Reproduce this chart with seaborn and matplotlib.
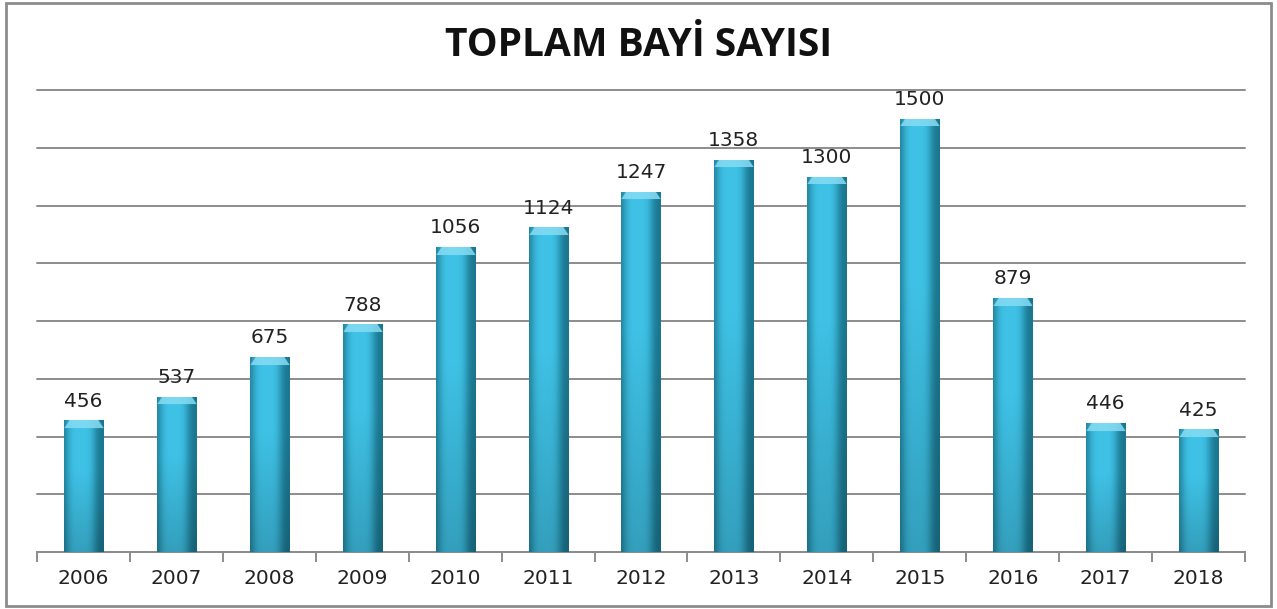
import numpy as np
import pandas as pd
import seaborn as sns
import matplotlib.pyplot as plt
from matplotlib.colors import to_rgb
from matplotlib.patches import Rectangle

years = ["2006", "2007", "2008", "2009", "2010", "2011", "2012",
         "2013", "2014", "2015", "2016", "2017", "2018"]
dealers = [456, 537, 675, 788, 1056, 1124, 1247, 1358, 1300, 1500, 879, 446, 425]

df = pd.DataFrame({"year": years, "count": dealers})

sns.set_style("white")
plt.rcParams["font.family"] = ["DejaVu Sans"]

fig = plt.figure(figsize=(12.77, 6.09), dpi=100)
ax = fig.add_axes([37 / 1277, 57 / 609, 1208 / 1277, 462 / 609])

sns.barplot(data=df, x="year", y="count", color="#35b5da", width=0.42,
            ax=ax, zorder=3)

ax.set_xlim(-0.5, len(years) - 0.5)
ax.set_ylim(0, 1600)
ax.set_yticks(np.arange(0, 1601, 200))
ax.yaxis.grid(True, color="#8c8c8c", lw=1.4)
for gl in ax.get_ygridlines():
    gl.set_clip_on(False)
ax.set_axisbelow(True)
ax.tick_params(axis="y", length=0, labelleft=False)
ax.set_xlabel("")
ax.set_ylabel("")
for s in ["top", "left", "right"]:
    ax.spines[s].set_visible(False)
ax.spines["bottom"].set_color("#8c8c8c")
ax.spines["bottom"].set_linewidth(1.4)

ax.set_xticks(np.arange(-0.5, len(years), 1.0), minor=True)
ax.tick_params(axis="x", which="minor", bottom=True, length=7, width=1.4,
               color="#8c8c8c", direction="out")
ax.tick_params(axis="x", which="major", length=0, pad=12, labelsize=14.5,
               labelcolor="#222222")

# cylinder-like shading for each bar
dark = np.array(to_rgb("#1b7790"))
light = np.array(to_rgb("#3fc2e6"))
bevel = np.array(to_rgb("#86dcf3"))
px_per_unit = 462 / 1600
cols = np.linspace(0, 1, 60)
prof = np.exp(-((cols - 0.42) / 0.38) ** 4)
for p in ax.patches:
    x0, w, h = p.get_x(), p.get_width(), p.get_height()
    nrows = max(int(h * px_per_unit), 2)
    rows = np.linspace(1, 0, nrows)[:, None]  # 1 at top
    base = dark[None, None, :] + (light - dark)[None, None, :] * prof[None, :, None]
    vert = 0.82 + 0.18 * np.clip(rows * 1.6, 0, 1)
    img = base * vert[:, :, None]
    # top bevel
    bev_px = 8
    depth = (1 - rows[:, 0]) * nrows
    for i in range(min(bev_px, nrows)):
        inset = 0.2 * (1 - depth[i] / bev_px)
        m = (cols >= inset * 0.6) & (cols <= 1 - inset * 0.6)
        img[i, m] = bevel * 0.85 + img[i, m] * 0.15
    img = np.clip(img, 0, 1)
    im = ax.imshow(img, extent=[x0, x0 + w, 0, h], aspect="auto",
                   zorder=4, interpolation="bilinear")
    im.set_clip_path(p)
    p.set_facecolor("none")
    p.set_edgecolor("none")

for i, v in enumerate(dealers):
    ax.annotate(str(v), (i, v), xytext=(0, 7), textcoords="offset points",
                ha="center", va="bottom", fontsize=14.5, color="#222222")

fig.text(0.5, 1 - 45 / 609, "TOPLAM BAYİ SAYISI", ha="center", va="center",
         fontsize=28, fontweight="bold", family=["Open Sans", "DejaVu Sans"],
         color="#111111")

fig.patches.append(Rectangle((6 / 1277, 3 / 609), 1265 / 1277, 603 / 609,
                             transform=fig.transFigure, fill=False,
                             edgecolor="#8c8c8c", lw=2))

fig.savefig("out.png", dpi=100)
